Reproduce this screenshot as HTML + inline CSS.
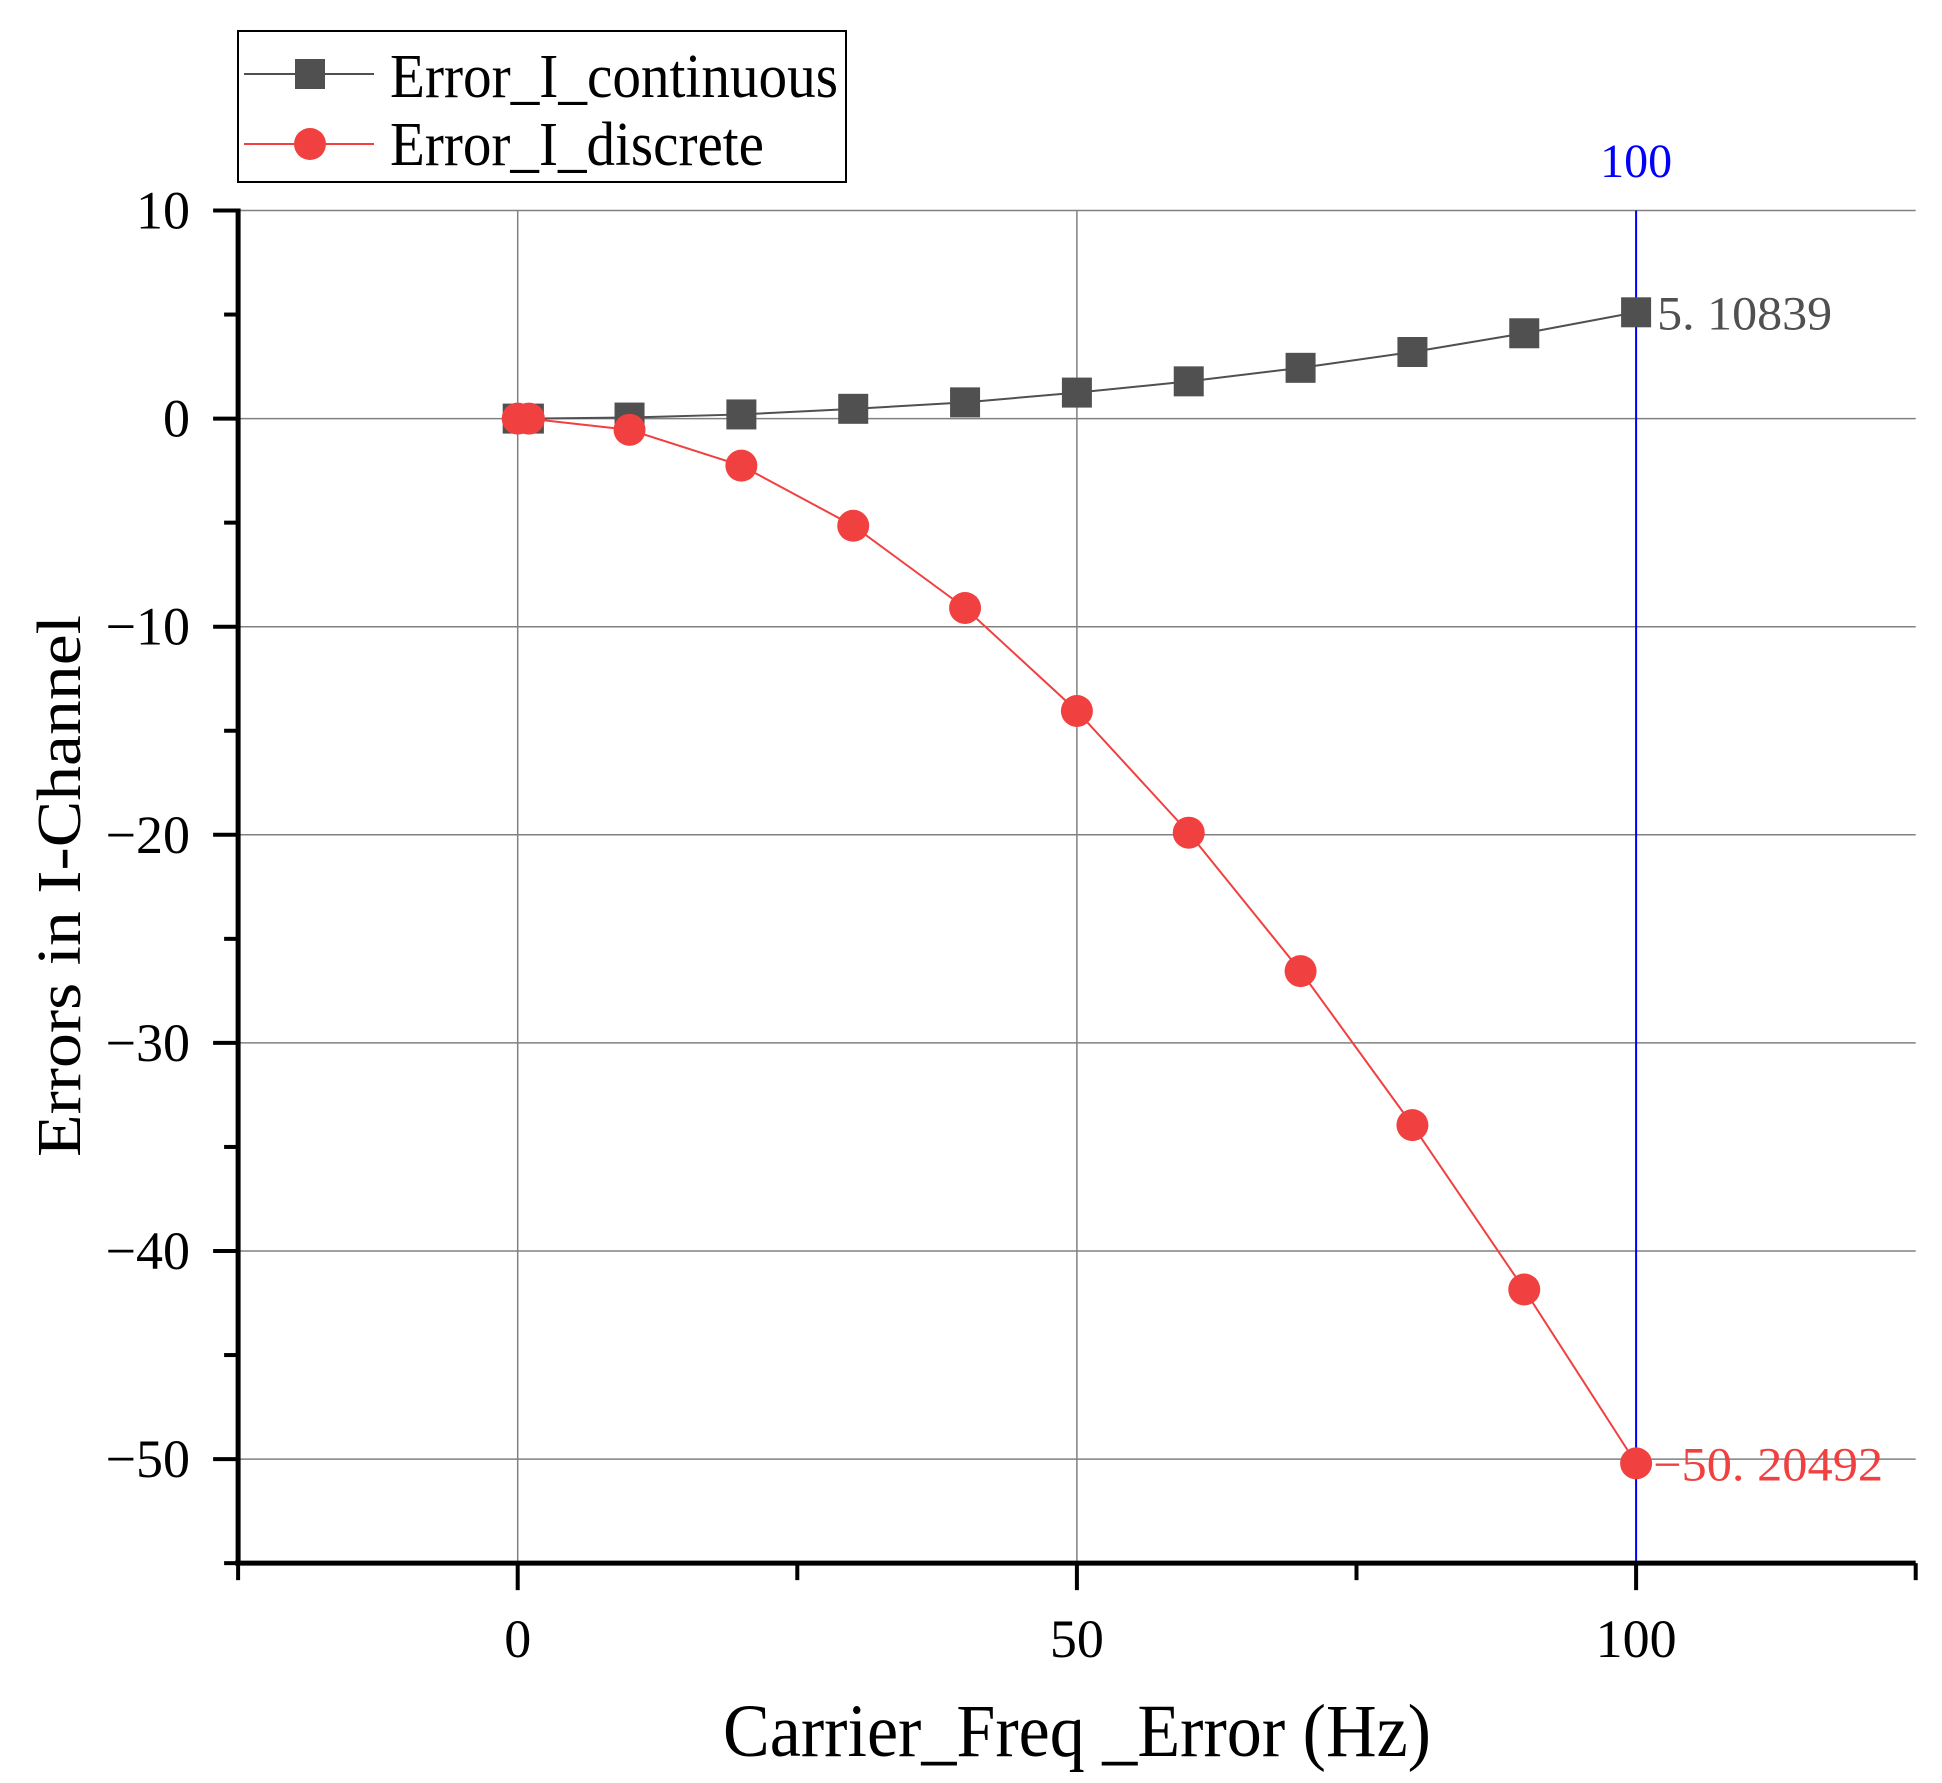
<!DOCTYPE html>
<html><head><meta charset="utf-8"><style>body{margin:0;background:#fff}svg{display:block}text{font-family:"Liberation Serif","Noto Serif CJK SC",serif}</style></head>
<body>
<svg id="chart" width="1942" height="1783" viewBox="0 0 1942 1783" xmlns="http://www.w3.org/2000/svg">
<g id="grid"></g>
<g id="series"></g>
<g id="axes"></g>
<g id="legend">
<rect x="238" y="31" width="608" height="151" fill="#fff" stroke="#000" stroke-width="2"/>
<line x1="244" y1="74" x2="374" y2="74" stroke="#505050" stroke-width="2"/>
<rect x="295" y="59" width="30" height="30" fill="#505050"/>
<text x="390" y="97" font-size="62" textLength="448" lengthAdjust="spacingAndGlyphs">Error_I_continuous</text>
<line x1="244" y1="144" x2="374" y2="144" stroke="#f04040" stroke-width="2"/>
<circle cx="310" cy="144" r="16" fill="#f04040"/>
<text x="390" y="165" font-size="62" textLength="374" lengthAdjust="spacingAndGlyphs">Error_I_discrete</text>
</g>
<text x="1077" y="1756" font-size="75" text-anchor="middle" textLength="708" lengthAdjust="spacingAndGlyphs">Carrier_Freq _Error (Hz)</text>
<text transform="translate(80,886) rotate(-90)" font-size="62" text-anchor="middle" textLength="542" lengthAdjust="spacingAndGlyphs">Errors in I-Channel</text>
</svg>
<script>
const xValues=[0,1,10,20,30,40,50,60,70,80,90,100];
const continuousValues=[0,0,0.05,0.2,0.47,0.78,1.25,1.79,2.44,3.2,4.1,5.10839];
const discreteValues=[0,0,-0.54,-2.26,-5.15,-9.1,-14.05,-19.9,-26.55,-33.95,-41.85,-50.20492];
const xTicks=[0,50,100];
const yTicks=[10,0,-10,-20,-30,-40,-50];
const markerX=100;
const ns="http://www.w3.org/2000/svg";
const X=v=>517.7+(v)*11.184;
const Y=v=>418.6-(v)*20.81;
function mk(p,t,a){const e=document.createElementNS(ns,t);for(const k in a)e.setAttribute(k,a[k]);p.appendChild(e);return e;}
const grid=document.getElementById('grid'),ser=document.getElementById('series'),ax=document.getElementById('axes');
const L=X(-25),R=X(125),T=Y(10),B=Y(-55);
xTicks.forEach(v=>{const g=mk(grid,'line',{x1:X(v),y1:T,x2:X(v),y2:B,stroke:'#808080','stroke-width':1.5});

});
yTicks.forEach(v=>{const g=mk(grid,'line',{x1:L,y1:Y(v),x2:R,y2:Y(v),stroke:'#808080','stroke-width':1.5});

});
const vl=mk(grid,'line',{x1:X(markerX),y1:T,x2:X(markerX),y2:B,stroke:'#0000ff','stroke-width':2});


const vt=mk(grid,'text',{x:X(markerX),y:177,'font-size':48,'text-anchor':'middle',fill:'#0000ff'});vt.textContent=String(markerX);


function pts(vals){return xValues.map((x,i)=>X(x)+','+Y(vals[i])).join(' ');}
const l1=mk(ser,'polyline',{points:pts(continuousValues),fill:'none',stroke:'#505050','stroke-width':2});


const l2=mk(ser,'polyline',{points:pts(discreteValues),fill:'none',stroke:'#f04040','stroke-width':2});


xValues.forEach((x,i)=>{const r=mk(ser,'rect',{x:X(x)-15,y:Y(continuousValues[i])-15,width:30,height:30,fill:'#505050'});

});
xValues.forEach((x,i)=>{const c=mk(ser,'circle',{cx:X(x),cy:Y(discreteValues[i]),r:16,fill:'#f04040'});

});
const n=xValues.length-1;
const a1=mk(ser,'text',{x:X(xValues[n])+21,y:Y(continuousValues[n])+17,'font-size':48,fill:'#505050',textLength:175,lengthAdjust:'spacingAndGlyphs'});a1.textContent='5. 10839';


const a2=mk(ser,'text',{x:X(xValues[n])+17,y:Y(discreteValues[n])+17,'font-size':48,fill:'#f04040',textLength:230,lengthAdjust:'spacingAndGlyphs'});a2.textContent='\u221250. 20492';


const xa=mk(ax,'line',{x1:L-3,y1:B,x2:R,y2:B,stroke:'#000','stroke-width':5});


const ya=mk(ax,'line',{x1:L,y1:T-2,x2:L,y2:B+2,stroke:'#000','stroke-width':5});


for(let v=-25;v<=125;v+=25){const major=(v%50===0);const t=mk(ax,'line',{x1:X(v),y1:B,x2:X(v),y2:B+(major?27:17),stroke:'#000','stroke-width':4});

}
for(let v=10;v>=-55;v-=5){const major=(v%10===0);const t=mk(ax,'line',{x1:L,y1:Y(v),x2:L-(major?25:14),y2:Y(v),stroke:'#000','stroke-width':4});

}
xTicks.forEach(v=>{const t=mk(ax,'text',{x:X(v),y:1657,'font-size':54,'text-anchor':'middle'});t.textContent=String(v);

});
yTicks.forEach(v=>{const t=mk(ax,'text',{x:190,y:Y(v)+18,'font-size':54,'text-anchor':'end'});t.textContent=v<0?'\u2212'+(-v):String(v);

});
</script>
</body></html>
